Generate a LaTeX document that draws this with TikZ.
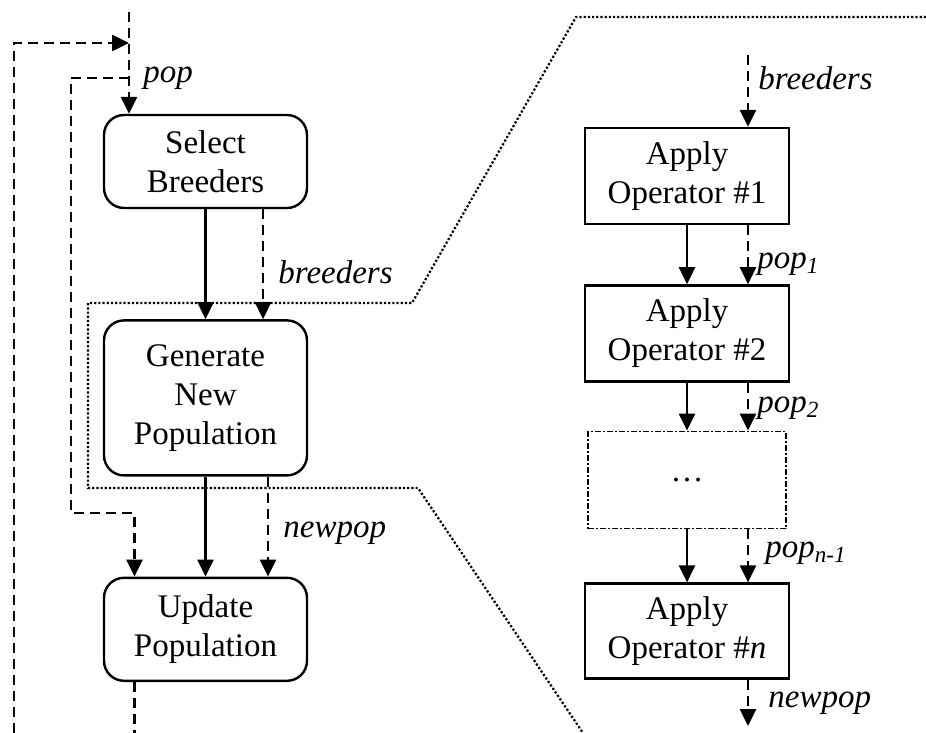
\documentclass[tikz,border=0pt]{standalone}
\usepackage{fontspec}
\setmainfont{Liberation Serif}
\usetikzlibrary{arrows.meta,positioning}

\begin{document}
\begin{tikzpicture}[x=0.5pt,y=-0.5pt,
				rbox/.style={rectangle, draw, rounded corners=10pt, align=center,
					line width=1.2pt, minimum width=101.5pt, inner sep=2pt,
					font=\fontsize{16.5}{19.5}\selectfont},
				opbox/.style={rectangle, draw, align=center, line width=1.2pt,
					minimum width=102pt, minimum height=48pt, inner sep=2pt,
					font=\fontsize{16.5}{19.5}\selectfont},
				arrow/.style={-{Triangle[length=8.5pt,width=8pt]}, line width=1.3pt},
				darrow/.style={arrow, dash pattern=on 5pt off 3pt},
				dline/.style={line width=1.3pt, dash pattern=on 5pt off 3pt},
				lbl/.style={font=\itshape\fontsize{16.5}{19}\selectfont,
					anchor=base west, inner sep=0pt},
				zoomline/.style={line width=1.1pt, densely dotted}
				]
				\useasboundingbox (0,0) rectangle (926,733);
				
				% main loop
				\node[rbox, minimum height=46.5pt] (sel) at (205.5,161.5) {Select \\ Breeders};
				\node[rbox, minimum height=77.5pt, below=55pt of sel] (gen) {Generate \\ New \\ Population};
				\node[rbox, minimum height=51.5pt, below=50pt of gen] (upd) {Update \\ Population};
				
				% operator chain
				\node[opbox] (op1) at (687,176) {Apply \\ Operator \#1};
				\node[opbox, below=29.5pt of op1] (op2) {Apply \\ Operator \#2};
				\node[opbox, minimum width=99pt, minimum height=48.5pt, line width=0.9pt,
					dash pattern=on 3pt off 1pt on 1pt off 1pt, below=24pt of op2] (dots) {\ldots};
				\node[opbox, minimum height=47.5pt, below=26.5pt of dots] (opn) {Apply \\ Operator \#\textit{n}};
				
				% zoom outline
				\draw[zoomline] (926,17) -- (576,17) -- (412,303) -- (88,303) -- (88,488)
					-- (418,488) -- (583,733);
				
				\coordinate (popin) at (129,12);
				\coordinate (popj) at (129,43);
				\coordinate (popk) at (129,78);
				\coordinate (loopin) at (14,733);
				\coordinate (bend) at (71,513);
				\coordinate (loopout) at (134.5,733);
				\coordinate (brin) at (748,55);
				\coordinate (npout) at (748,726);
				
				\draw[darrow] (popin) -- ([xshift=-38.25pt]sel.north);
				\draw[darrow] (loopin) |- (popj);
				\draw[darrow] (popk) -| (bend) -| ([xshift=-35.5pt]upd.north);
				\draw[dline] ([xshift=-35.5pt]upd.south) -- (loopout);
				
				\draw[arrow] (sel.south) -- (gen.north);
				\draw[darrow] ([xshift=28.75pt]sel.south) -- ([xshift=28.75pt]gen.north);
				\draw[arrow] (gen.south) -- (upd.north);
				\draw[darrow] ([xshift=31.25pt]gen.south) -- ([xshift=31.25pt]upd.north);
				
				\draw[darrow] (brin) -- (brin |- op1.north);
				\draw[arrow] (op1.south) -- (op2.north);
				\draw[darrow] ([xshift=30.5pt]op1.south) -- ([xshift=30.5pt]op2.north);
				\draw[arrow] (op2.south) -- (dots.north);
				\draw[darrow] ([xshift=30.5pt]op2.south) -- ([xshift=30.5pt]dots.north);
				\draw[arrow] (dots.south) -- (opn.north);
				\draw[darrow] ([xshift=30.5pt]dots.south) -- ([xshift=30.5pt]opn.north);
				\draw[darrow] (npout |- opn.south) -- (npout);
				
				% labels
				\node[lbl] (lpop) at (143,83) {pop};
				\node[lbl] (lbr) at (278,283) {breeders};
				\node[lbl] (lnew) at (283,537) {newpop};
				\node[lbl] (rbr) at (758,90) {breeders};
				\node[lbl] (rp1) at (757,268) {pop\textsubscript{1}};
				\node[lbl] (rp2) at (757,412) {pop\textsubscript{2}};
				\node[lbl] (rpn) at (765,557) {pop\textsubscript{n-1}};
				\node[lbl] (rnew) at (768,707) {newpop};
		\end{tikzpicture}
\end{document}
